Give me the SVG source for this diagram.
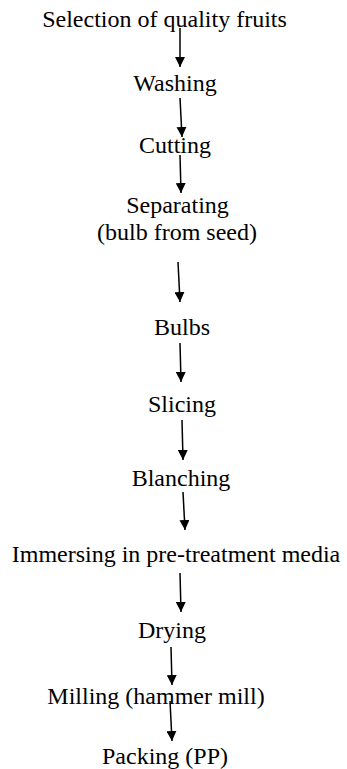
<svg xmlns="http://www.w3.org/2000/svg" width="347" height="769" viewBox="0 0 347 769">
<style>
text{font-family:"Liberation Serif","Times New Roman",serif;font-size:24px;fill:#000;text-anchor:middle}
.c line{stroke:#000;stroke-width:1.5;marker-end:url(#ah)}
</style>
<defs>
<marker id="ah" markerUnits="userSpaceOnUse" markerWidth="10" markerHeight="10" refX="10" refY="5" orient="auto" viewBox="0 0 10 10">
<path d="M0,0 L10,5 L0,10 z" fill="#000"/>
</marker>
</defs>
<rect width="347" height="769" fill="#fff"/>
<g class="c" id="connectors">
<line x1="180" y1="28" x2="180" y2="67"/>
<line x1="180" y1="98" x2="182" y2="137"/>
<line x1="180" y1="155" x2="181" y2="193"/>
<line x1="178" y1="262" x2="180" y2="302"/>
<line x1="180" y1="343" x2="181" y2="382"/>
<line x1="182" y1="420" x2="183" y2="460"/>
<line x1="183" y1="492" x2="185" y2="530"/>
<line x1="180" y1="573" x2="181" y2="612"/>
<line x1="171" y1="647" x2="172" y2="685"/>
<line x1="170" y1="701" x2="172" y2="741"/>
</g>
<g id="n1"><text x="164.5" y="26.5">Selection of quality fruits</text></g>
<g id="n2"><text x="175" y="90.5">Washing</text></g>
<g id="n3"><text x="175" y="153">Cutting</text></g>
<g id="n4"><text x="177.5" y="213">Separating</text><text x="177" y="240">(bulb from seed)</text></g>
<g id="n5"><text x="182" y="335">Bulbs</text></g>
<g id="n6"><text x="182" y="411.5">Slicing</text></g>
<g id="n7"><text x="181" y="486">Blanching</text></g>
<g id="n8"><text x="176" y="561.5">Immersing in pre-treatment media</text></g>
<g id="n9"><text x="172" y="638">Drying</text></g>
<g id="n10"><text x="156" y="703.5">Milling (hammer mill)</text></g>
<g id="n11"><text x="165" y="764">Packing (PP)</text></g>
</svg>
